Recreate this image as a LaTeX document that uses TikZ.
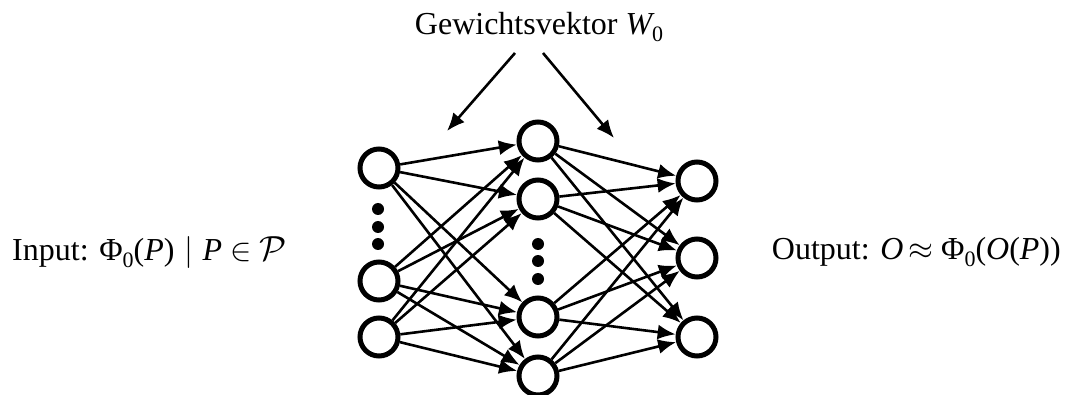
\documentclass[tikz,border=0pt]{standalone}
\usepackage{mathptmx}
\usepackage[no-math]{fontspec}
\setmainfont{Liberation Serif}
\usepackage{graphicx}
\DeclareMathAlphabet{\mathcal}{OMS}{lmsy}{m}{n}
\DeclareMathSizes{32}{32}{22}{16}
\usetikzlibrary{arrows.meta}
% lowered small index in text mode
\newcommand{\idx}[1]{\raisebox{-0.2em}{\fontsize{22}{24}\selectfont #1}}
\tikzset{
  neuron/.style={circle, draw, line width=5pt, minimum size=38pt, inner sep=0pt},
  link/.style={line width=2.6pt, -{Latex[length=18pt,width=15pt]}},
  dot/.style={circle, fill, minimum size=12pt, inner sep=0pt},
  label/.style={font=\fontsize{32}{38}\selectfont, inner sep=0pt}
}
\begin{document}
\begin{tikzpicture}[x=1pt,y=-1pt]
\useasboundingbox (0,0) rectangle (1065,395);
% input layer
\node[neuron] (i1) at (379,168) {};
\node[neuron] (i2) at (379,281) {};
\node[neuron] (i3) at (379,337) {};
\foreach \k/\y in {a/209,b/227,c/244} \node[dot] (id\k) at (378,\y) {};
% hidden layer
\node[neuron] (h1) at (538,141) {};
\node[neuron] (h2) at (538,199) {};
\node[neuron] (h3) at (538,317) {};
\node[neuron] (h4) at (538,376) {};
\foreach \k/\y in {a/244,b/261,c/279} \node[dot] (hd\k) at (538,\y) {};
% output layer
\node[neuron] (o1) at (697,181) {};
\node[neuron] (o2) at (697,258) {};
\node[neuron] (o3) at (697,337) {};
% connections
\foreach \a in {1,2,3}
  \foreach \b in {1,2,3,4}
    \draw[link] (i\a) -- (h\b);
\foreach \a in {1,2,3,4}
  \foreach \b in {1,2,3}
    \draw[link] (h\a) -- (o\b);
% labels
\node[label, anchor=base] (w) at (539,35) {Gewichtsvektor \textit{W}\hspace{-0.08em}\idx{0}};
\node[label, anchor=base west] (in) at (12,261)
  {Input: Φ\idx{0}(\textit{P})\hspace{0.3em}$\mid$\hspace{0.3em}\textit{P}\hspace{0.25em}$\in$\hspace{0.25em}\scalebox{1.4}{$\mathcal{P}$}};
\node[label, anchor=base east] (out) at (1061,260)
  {Output: \textit{O}\hspace{0.15em}$\approx$\hspace{0.25em}Φ\idx{0}(\textit{O}(\textit{P}))};
\coordinate (wl) at (515,53);
\coordinate (wr) at (543,53);
\coordinate (tl) at (447,131);
\coordinate (tr) at (614,138);
\draw[link] (wl) -- (tl);
\draw[link] (wr) -- (tr);
\end{tikzpicture}
\end{document}
